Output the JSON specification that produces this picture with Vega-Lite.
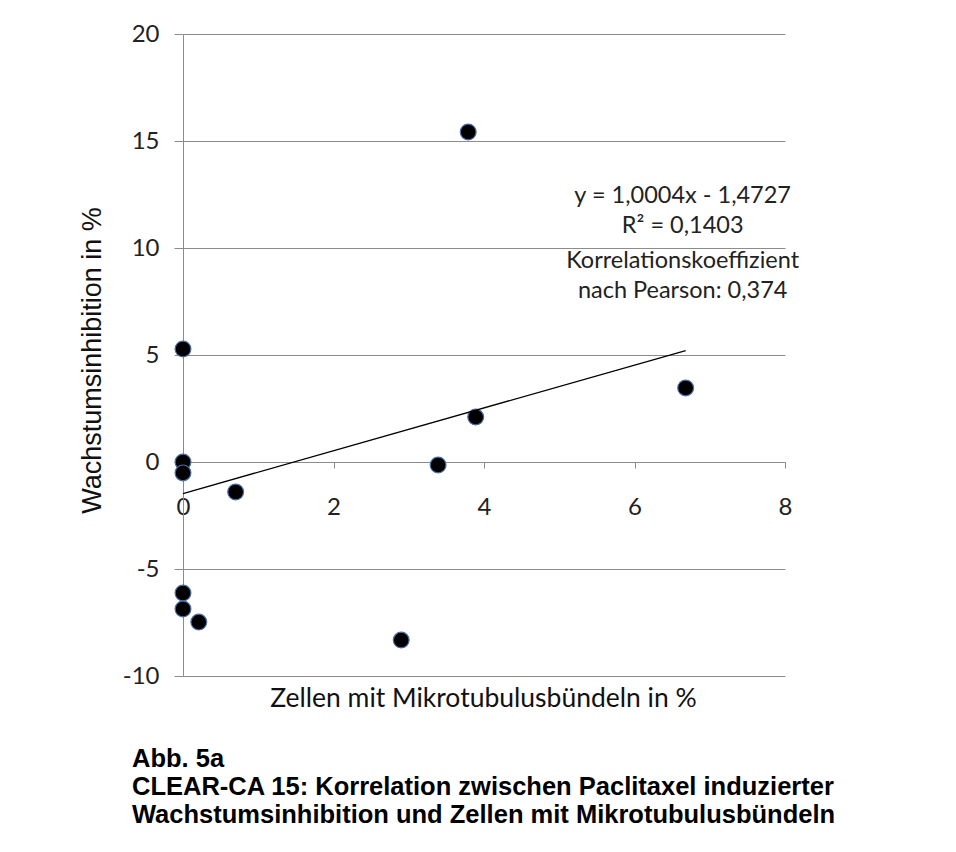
{
  "$schema": "https://vega.github.io/schema/vega-lite/v6.json",
  "width": 602,
  "height": 642,
  "autosize": {"type": "none"},
  "padding": {"left": 183, "top": 34, "right": 171, "bottom": 176},
  "background": "white",
  "title": {
    "text": ["Abb. 5a", "CLEAR-CA 15: Korrelation zwischen Paclitaxel induzierter", "Wachstumsinhibition und Zellen mit Mikrotubulusbündeln"],
    "orient": "bottom",
    "anchor": "start",
    "frame": "group",
    "font": "Liberation Sans",
    "fontSize": 25.5,
    "fontWeight": "bold",
    "color": "black",
    "lineHeight": 28,
    "dx": -51,
    "offset": 35
  },
  "datasets": {
    "points": [
      {"zellen": 0.0, "inhibition": 5.28},
      {"zellen": 0.0, "inhibition": 0.0},
      {"zellen": 0.0, "inhibition": -0.51},
      {"zellen": 0.7, "inhibition": -1.4},
      {"zellen": 0.0, "inhibition": -6.12},
      {"zellen": 0.0, "inhibition": -6.87},
      {"zellen": 0.21, "inhibition": -7.48},
      {"zellen": 2.9, "inhibition": -8.32},
      {"zellen": 3.39, "inhibition": -0.14},
      {"zellen": 3.79, "inhibition": 15.42},
      {"zellen": 3.89, "inhibition": 2.1},
      {"zellen": 6.68, "inhibition": 3.46}
    ],
    "trend": [
      {"zellen": 0.0, "inhibition": -1.4727},
      {"zellen": 6.68, "inhibition": 5.2100}
    ],
    "notes": [
      {"zellen": 6.64, "inhibition": 12.1, "label": "y = 1,0004x - 1,4727"},
      {"zellen": 6.64, "inhibition": 10.7, "label": "R² = 0,1403"},
      {"zellen": 6.64, "inhibition": 9.07, "label": "Korrelationskoeffizient"},
      {"zellen": 6.64, "inhibition": 7.66, "label": "nach Pearson: 0,374"}
    ]
  },
  "layer": [
    {
      "data": {"name": "points"},
      "mark": {"type": "point", "filled": true, "fill": "black", "stroke": "#4a6fa5", "strokeWidth": 1.2, "size": 250, "opacity": 1, "shape": "circle"},
      "encoding": {
        "x": {
          "field": "zellen", "type": "quantitative",
          "scale": {"domain": [0, 8], "nice": false, "zero": false},
          "axis": {
            "orient": "bottom",
            "offset": -214,
            "values": [0, 2, 4, 6, 8],
            "labelExpr": "toString(datum.value)",
            "grid": false,
            "domainColor": "#8c8c8c",
            "tickColor": "#8c8c8c",
            "tickSize": 6,
            "labelFont": "Lato",
            "labelFontSize": 24,
            "labelColor": "#222222",
            "labelPadding": 27,
            "labelFlush": false,
            "title": "Zellen mit Mikrotubulusbündeln in %",
            "titleFont": "Lato",
            "titleFontSize": 26.5,
            "titleFontWeight": "normal",
            "titleColor": "#111111",
            "titleBaseline": "alphabetic",
            "titleY": 244,
            "titleX": 300,
            "titleAlign": "center"
          }
        },
        "y": {
          "field": "inhibition", "type": "quantitative",
          "scale": {"domain": [-10, 20], "nice": false, "zero": false},
          "axis": {
            "values": [-10, -5, 0, 5, 10, 15, 20],
            "labelExpr": "toString(datum.value)",
            "grid": true,
            "gridColor": "#8c8c8c",
            "domainColor": "#8c8c8c",
            "tickColor": "#8c8c8c",
            "tickSize": 9,
            "labelFont": "Lato",
            "labelFontSize": 24,
            "labelColor": "#222222",
            "labelPadding": 15,
            "labelFlush": false,
            "title": "Wachstumsinhibition in %",
            "titleFont": "Liberation Sans",
            "titleFontSize": 27,
            "titleFontWeight": "normal",
            "titleColor": "#111111",
            "titleBaseline": "alphabetic",
            "titleAngle": -90,
            "titleX": -83,
            "titleY": 326,
            "titleAlign": "center"
          }
        }
      }
    },
    {
      "data": {"name": "trend"},
      "mark": {"type": "line", "color": "black", "strokeWidth": 1.3},
      "encoding": {
        "x": {"field": "zellen", "type": "quantitative"},
        "y": {"field": "inhibition", "type": "quantitative"}
      }
    },
    {
      "data": {"name": "notes"},
      "mark": {"type": "text", "font": "Lato", "fontSize": 23.5, "color": "#222222", "align": "center", "baseline": "alphabetic"},
      "encoding": {
        "x": {"field": "zellen", "type": "quantitative"},
        "y": {"field": "inhibition", "type": "quantitative"},
        "text": {"field": "label", "type": "nominal"}
      }
    }
  ],
  "config": {
    "view": {"stroke": null},
    "axis": {"labelAngle": 0}
  }
}
